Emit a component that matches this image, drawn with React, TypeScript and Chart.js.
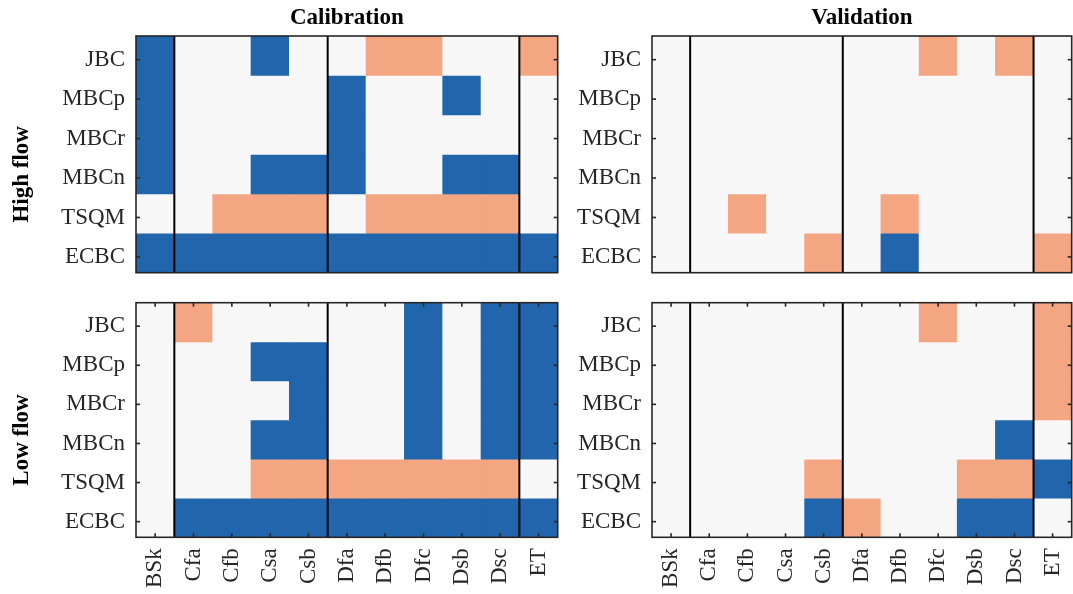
import React, { useEffect, useRef } from 'react';
import { Chart, registerables } from 'chart.js';

Chart.register(...registerables);

// ---------- data ----------
const climates = ['BSk', 'Cfa', 'Cfb', 'Csa', 'Csb', 'Dfa', 'Dfb', 'Dfc', 'Dsb', 'Dsc', 'ET'];
const methods = ['JBC', 'MBCp', 'MBCr', 'MBCn', 'TSQM', 'ECBC'];
// 1 = blue (better), -1 = salmon (worse), 0 = no significant difference
const calibrationHigh = [
  [1, 0, 0, 1, 0, 0, -1, -1, 0, 0, -1],
  [1, 0, 0, 0, 0, 1, 0, 0, 1, 0, 0],
  [1, 0, 0, 0, 0, 1, 0, 0, 0, 0, 0],
  [1, 0, 0, 1, 1, 1, 0, 0, 1, 1, 0],
  [0, 0, -1, -1, -1, 0, -1, -1, -1, -1, 0],
  [1, 1, 1, 1, 1, 1, 1, 1, 1, 1, 1],
];
const validationHigh = [
  [0, 0, 0, 0, 0, 0, 0, -1, 0, -1, 0],
  [0, 0, 0, 0, 0, 0, 0, 0, 0, 0, 0],
  [0, 0, 0, 0, 0, 0, 0, 0, 0, 0, 0],
  [0, 0, 0, 0, 0, 0, 0, 0, 0, 0, 0],
  [0, 0, -1, 0, 0, 0, -1, 0, 0, 0, 0],
  [0, 0, 0, 0, -1, 0, 1, 0, 0, 0, -1],
];
const calibrationLow = [
  [0, -1, 0, 0, 0, 0, 0, 1, 0, 1, 1],
  [0, 0, 0, 1, 1, 0, 0, 1, 0, 1, 1],
  [0, 0, 0, 0, 1, 0, 0, 1, 0, 1, 1],
  [0, 0, 0, 1, 1, 0, 0, 1, 0, 1, 1],
  [0, 0, 0, -1, -1, -1, -1, -1, -1, -1, 0],
  [0, 1, 1, 1, 1, 1, 1, 1, 1, 1, 1],
];
const validationLow = [
  [0, 0, 0, 0, 0, 0, 0, -1, 0, 0, -1],
  [0, 0, 0, 0, 0, 0, 0, 0, 0, 0, -1],
  [0, 0, 0, 0, 0, 0, 0, 0, 0, 0, -1],
  [0, 0, 0, 0, 0, 0, 0, 0, 0, 1, 0],
  [0, 0, 0, 0, -1, 0, 0, 0, -1, -1, 1],
  [0, 0, 0, 0, 1, -1, 0, 0, 1, 1, 0],
];
const separators = [0.5, 4.5, 9.5];
const panelTitles = ['Calibration', 'Validation'];
const rowTitles = ['High flow', 'Low flow'];

// ---------- style ----------
const W = 1073;
const H = 594;
const FONT = "'Liberation Serif', 'Times New Roman', serif";
const FS = 23;
const AXIS = '#262626';
const YW = 100;
const XH = 56.7;
const TL = 4;
const colorFor = (v: number) => (v > 0 ? '#2166ac' : v < 0 ? '#f4a582' : '#f7f7f7');

type Panel = {
  data: number[][];
  left: number;
  right: number;
  top: number;
  bottom: number;
  showX: boolean;
  title?: string;
  rowTitle?: string;
};

const panels: Panel[] = [
  { data: calibrationHigh, left: 136, right: 557.7, top: 36, bottom: 272.7, showX: false, title: panelTitles[0], rowTitle: rowTitles[0] },
  { data: validationHigh, left: 652, right: 1071.7, top: 36, bottom: 272.7, showX: false, title: panelTitles[1] },
  { data: calibrationLow, left: 136, right: 557.7, top: 302.7, bottom: 537.3, showX: true, rowTitle: rowTitles[1] },
  { data: validationLow, left: 652, right: 1071.7, top: 302.7, bottom: 537.3, showX: true },
];

const framePlugin = {
  id: 'frame',
  afterDatasetsDraw(chart: any, _args: any, opts: any) {
    const { ctx, chartArea: a } = chart;
    const x = chart.scales.x;
    const y = chart.scales.y;
    const line = (x1: number, y1: number, x2: number, y2: number) => {
      ctx.beginPath();
      ctx.moveTo(x1, y1);
      ctx.lineTo(x2, y2);
      ctx.stroke();
    };
    ctx.save();
    ctx.strokeStyle = '#000';
    ctx.lineWidth = 2;
    for (const s of separators) {
      const px = x.getPixelForValue(s);
      line(px, a.top, px, a.bottom);
    }
    ctx.strokeStyle = AXIS;
    ctx.lineWidth = 1.6;
    y.ticks.forEach((t: any) => {
      const py = y.getPixelForValue(t.value);
      line(a.left, py, a.left + TL, py);
      line(a.right, py, a.right - TL, py);
    });
    if (opts.showX) {
      climates.forEach((_c, i) => {
        const px = x.getPixelForValue(i);
        line(px, a.top, px, a.top + TL);
        line(px, a.bottom, px, a.bottom - TL);
      });
    }
    ctx.strokeRect(a.left, a.top, a.right - a.left, a.bottom - a.top);

    ctx.fillStyle = '#000';
    ctx.font = `bold ${FS}px ${FONT}`;
    ctx.textBaseline = 'alphabetic';
    ctx.textAlign = 'center';
    if (opts.title) {
      ctx.fillText(opts.title, (a.left + a.right) / 2, a.top - 12);
    }
    if (opts.rowTitle) {
      ctx.translate(a.left - 108.5, (a.top + a.bottom) / 2 + 20);
      ctx.rotate(-Math.PI / 2);
      ctx.fillText(opts.rowTitle, 0, 0);
    }
    ctx.restore();
  },
};

function makeConfig(p: Panel): any {
  const n = methods.length;
  const datasets = methods.map((m, r) => ({
    label: m,
    data: climates.map(() => [n - 1 - r, n - r]),
    backgroundColor: p.data[r].map(colorFor),
    borderWidth: 0,
    barPercentage: 1,
    categoryPercentage: 1,
    grouped: false,
  }));
  const tickFont = { family: FONT, size: FS };
  return {
    type: 'bar',
    data: { labels: climates, datasets },
    options: {
      animation: false,
      responsive: false,
      maintainAspectRatio: false,
      events: [],
      layout: {
        padding: {
          left: p.left - YW,
          right: W - p.right,
          top: p.top,
          bottom: p.showX ? H - p.bottom - XH : H - p.bottom,
        },
      },
      plugins: {
        legend: { display: false },
        tooltip: { enabled: false },
        title: { display: false },
        frame: { showX: p.showX, title: p.title, rowTitle: p.rowTitle },
      },
      scales: {
        x: {
          type: 'category',
          display: p.showX,
          grid: { display: false, drawTicks: false },
          border: { display: false },
          ticks: {
            autoSkip: false,
            maxRotation: 90,
            minRotation: 90,
            padding: 11,
            color: AXIS,
            font: tickFont,
          },
          afterFit: (s: any) => {
            s.height = p.showX ? XH : 0;
            s.paddingLeft = 0;
            s.paddingRight = 0;
          },
        },
        y: {
          type: 'linear',
          min: 0,
          max: n,
          grid: { display: false, drawTicks: false },
          border: { display: false },
          afterBuildTicks: (s: any) => {
            s.ticks = methods.map((_m, r) => ({ value: n - 0.6 - r }));
          },
          ticks: {
            callback: (_v: any, i: number) => methods[i],
            padding: 11,
            color: AXIS,
            font: tickFont,
          },
          afterFit: (s: any) => {
            s.width = YW;
            s.paddingTop = 0;
            s.paddingBottom = 0;
          },
        },
      },
    },
    plugins: [framePlugin],
  };
}

function PanelChart({ panel }: { panel: Panel }) {
  const ref = useRef<HTMLCanvasElement | null>(null);
  useEffect(() => {
    if (!ref.current) return;
    const chart = new Chart(ref.current, makeConfig(panel));
    return () => chart.destroy();
  }, [panel]);
  return (
    <canvas
      ref={ref}
      width={W}
      height={H}
      style={{ position: 'absolute', left: 0, top: 0, width: W, height: H }}
    />
  );
}

export default function App() {
  return (
    <div style={{ position: 'fixed', left: 0, top: 0, width: W, height: H, background: '#fff', overflow: 'hidden' }}>
      {panels.map((p, i) => (
        <PanelChart key={i} panel={p} />
      ))}
    </div>
  );
}
